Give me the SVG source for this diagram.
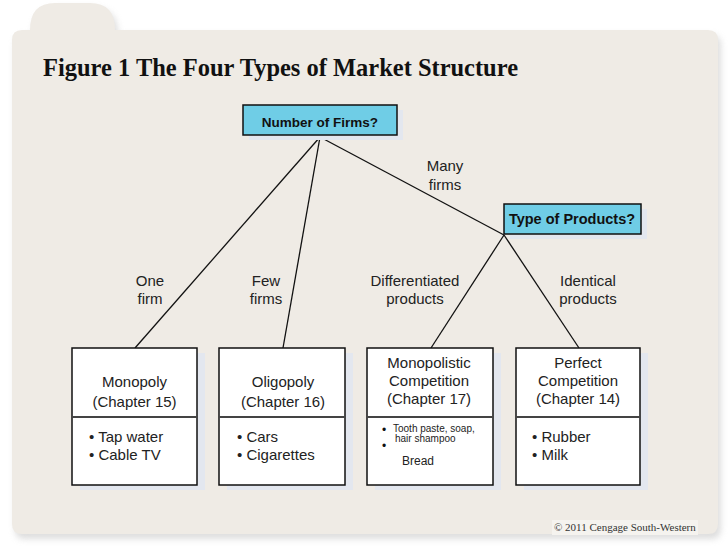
<svg xmlns="http://www.w3.org/2000/svg" width="728" height="546" viewBox="0 0 728 546">
<defs>
<filter id="blur" x="-5%" y="-5%" width="110%" height="110%"><feGaussianBlur stdDeviation="3"/></filter>
</defs>
<style>
.lbl{font-family:"Liberation Sans",Arial,sans-serif;font-size:15px;fill:#222;text-anchor:middle}
.q{font-family:"Liberation Sans",Arial,sans-serif;font-weight:bold;fill:#111;text-anchor:middle}
.qbox{fill:#6fcde6;stroke:#111;stroke-width:1.5}
.box{fill:#fff;stroke:#111;stroke-width:1.5}
.shadow{fill:#e3e7ef}
.div{stroke:#444;stroke-width:2}
.bt{font-family:"Liberation Sans",Arial,sans-serif;font-size:15px;fill:#222}
.ct{font-family:"Liberation Sans",Arial,sans-serif;font-size:15px;fill:#222;text-anchor:middle}
.con line{stroke:#111;stroke-width:1.3}
</style>
<rect width="728" height="546" fill="#fff"/>
<g id="panel">
<path d="M12,40 Q12,30 22,30 L30,30 Q30,3 55,3 L90,3 Q115,3 115,30 L708,30 Q718,30 718,40 L718,524 Q718,534 708,534 L22,534 Q12,534 12,524 Z" transform="translate(3,5)" fill="#c8c8c8" opacity="0.6" filter="url(#blur)"/>
<path d="M12,40 Q12,30 22,30 L30,30 Q30,3 55,3 L90,3 Q115,3 115,30 L708,30 Q718,30 718,40 L718,524 Q718,534 708,534 L22,534 Q12,534 12,524 Z" fill="#efebe5"/>
</g>
<text id="title" x="43" y="76" font-family="'Liberation Serif','Times New Roman',serif" font-weight="bold" font-size="24.5" textLength="475" lengthAdjust="spacingAndGlyphs" fill="#111">Figure 1 The Four Types of Market Structure</text>
<g class="con" id="connectors">
<line x1="320" y1="137" x2="135" y2="348"/>
<line x1="320" y1="137" x2="283" y2="348"/>
<line x1="320" y1="137" x2="504" y2="235"/>
<line x1="504" y1="235" x2="431" y2="348"/>
<line x1="504" y1="235" x2="579" y2="348"/>
</g>
<g id="labels">
<text class="lbl" x="445" y="171">Many</text>
<text class="lbl" x="445" y="190">firms</text>
<text class="lbl" x="150" y="286">One</text>
<text class="lbl" x="150" y="304">firm</text>
<text class="lbl" x="266" y="286">Few</text>
<text class="lbl" x="266" y="304">firms</text>
<text class="lbl" x="415" y="286">Differentiated</text>
<text class="lbl" x="415" y="304">products</text>
<text class="lbl" x="588" y="286">Identical</text>
<text class="lbl" x="588" y="304">products</text>
</g>
<g id="number-of-firms">
<rect class="shadow" x="249" y="110" width="154" height="30"/>
<rect class="qbox" x="243" y="105" width="154" height="30"/>
<text class="q" x="320" y="127" font-size="13.5">Number of Firms?</text>
</g>
<g id="type-of-products">
<rect class="shadow" x="510" y="209" width="137" height="30"/>
<rect class="qbox" x="504" y="204" width="137" height="30"/>
<text class="q" x="572" y="224" font-size="14.5">Type of Products?</text>
</g>
<g id="monopoly">
<rect class="shadow" x="80" y="353" width="125" height="137"/>
<rect class="box" x="72" y="348" width="125" height="137"/>
<line class="div" x1="72" y1="417" x2="197" y2="417"/>
<text class="ct" x="134.5" y="387">Monopoly</text>
<text class="ct" x="134.5" y="407">(Chapter 15)</text>
<text class="bt" x="89" y="442">• Tap water</text>
<text class="bt" x="89" y="460">• Cable TV</text>
</g>
<g id="oligopoly">
<rect class="shadow" x="227" y="353" width="126" height="137"/>
<rect class="box" x="219" y="348" width="126" height="137"/>
<line class="div" x1="219" y1="417" x2="345" y2="417"/>
<text class="ct" x="283" y="387">Oligopoly</text>
<text class="ct" x="283" y="407">(Chapter 16)</text>
<text class="bt" x="237" y="442">• Cars</text>
<text class="bt" x="237" y="460">• Cigarettes</text>
</g>
<g id="monopolistic-competition">
<rect class="shadow" x="375" y="353" width="126" height="137"/>
<rect class="box" x="367" y="348" width="126" height="137"/>
<line class="div" x1="367" y1="417" x2="493" y2="417"/>
<text class="ct" x="429" y="368">Monopolistic</text>
<text class="ct" x="429" y="386">Competition</text>
<text class="ct" x="429" y="404">(Chapter 17)</text>
<text x="382" y="434" font-family="'Liberation Sans',Arial,sans-serif" font-size="12" fill="#111">•</text>
<text x="382" y="450" font-family="'Liberation Sans',Arial,sans-serif" font-size="12" fill="#111">•</text>
<text x="393" y="432" font-family="'Liberation Sans',Arial,sans-serif" font-size="10" fill="#222">Tooth paste, soap,</text>
<text x="395" y="442" font-family="'Liberation Sans',Arial,sans-serif" font-size="10" fill="#222">hair shampoo</text>
<text x="402" y="465" font-family="'Liberation Sans',Arial,sans-serif" font-size="12" fill="#222">Bread</text>
</g>
<g id="perfect-competition">
<rect class="shadow" x="524" y="353" width="124" height="137"/>
<rect class="box" x="516" y="348" width="124" height="137"/>
<line class="div" x1="516" y1="417" x2="640" y2="417"/>
<text class="ct" x="578" y="368">Perfect</text>
<text class="ct" x="578" y="386">Competition</text>
<text class="ct" x="578" y="404">(Chapter 14)</text>
<text class="bt" x="532" y="442">• Rubber</text>
<text class="bt" x="532" y="460">• Milk</text>
</g>
<g id="copyright">
<rect x="552" y="520" width="146" height="15" fill="#f5f3ef"/>
<text x="554" y="531" font-family="'Liberation Serif','Times New Roman',serif" font-size="11" fill="#333">© 2011 Cengage South-Western</text>
</g>
</svg>
